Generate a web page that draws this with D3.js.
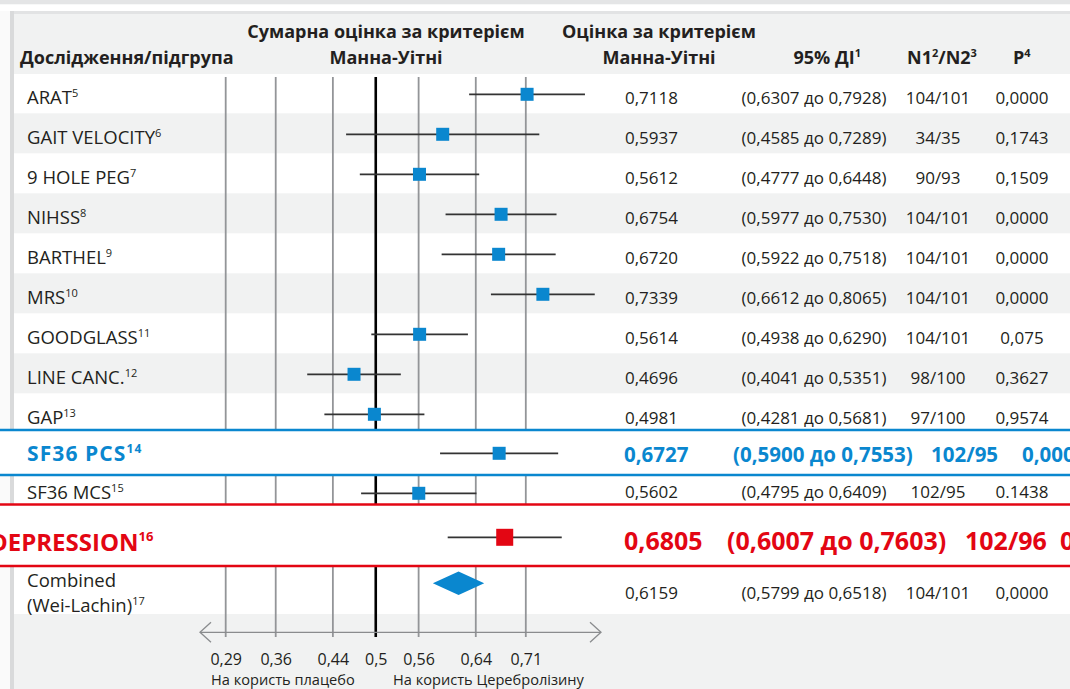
<!DOCTYPE html>
<html>
<head>
<meta charset="utf-8">
<script src="https://cdn.jsdelivr.net/npm/d3@7"></script>
<style>
html,body{margin:0;padding:0;background:#fff;}
svg{display:block;font-family:"Open Sans","Noto Sans",sans-serif;}
</style>
</head>
<body>
<svg id="chart" width="1070" height="689"></svg>
<script>
// ---------- DATA ----------
const studies = ["ARAT","GAIT VELOCITY","9 HOLE PEG","NIHSS","BARTHEL","MRS","GOODGLASS","LINE CANC.","GAP","SF36 PCS","SF36 MCS","DEPRESSION","Combined"];
const refNotes = ["5","6","7","8","9","10","11","12","13","14","15","16","17"];
const estimates = [0.7118,0.5937,0.5612,0.6754,0.6720,0.7339,0.5614,0.4696,0.4981,0.6727,0.5602,0.6805,0.6159];
const ciLow  = [0.6307,0.4585,0.4777,0.5977,0.5922,0.6612,0.4938,0.4041,0.4281,0.5900,0.4795,0.6007,0.5799];
const ciHigh = [0.7928,0.7289,0.6448,0.7530,0.7518,0.8065,0.6290,0.5351,0.5681,0.7553,0.6409,0.7603,0.6518];
const nLabels = ["104/101","34/35","90/93","104/101","104/101","104/101","104/101","98/100","97/100","102/95","102/95","102/96","104/101"];
const pLabels = ["0,0000","0,1743","0,1509","0,0000","0,0000","0,0000","0,075","0,3627","0,9574","0,0000","0.1438","0,0000","0,0000"];
const tickValues = [0.29,0.36,0.44,0.5,0.56,0.64,0.71];
const tickLabels = ["0,29","0,36","0,44","0,5","0,56","0,64","0,71"];
const favourLabels = ["На користь плацебо","На користь Церебролізину"];
const headerLabels = {
  study: "Дослідження/підгрупа",
  sum1: "Сумарна оцінка за критерієм", sum2: "Манна-Уітні",
  est1: "Оцінка за критерієм", est2: "Манна-Уітні",
  ci: "95% ДІ", ciSup: "1",
  n: ["N1","2","/N2","3"],
  p: "P", pSup: "4"
};
// row style: normal / blue / red / combined
const rowStyle = ["n","n","n","n","n","n","n","n","n","blue","n","red","comb"];

// ---------- LAYOUT ----------
const W = 1070, H = 689;
const BLACK = "#231f20", BLUE = "#0a87cf", RED = "#e30613", GRID = "#939598", LIGHT = "#f1f2f2";
const svg = d3.select("#chart");
const x = d3.scaleLinear().domain([0.29, 0.71]).range([225.7, 525.8]);
const fmt = v => d3.format(".4f")(v).replace(".", ",");

// row geometry
const regTop = d3.scaleLinear().domain([0, 1]).range([73.3, 113.3]);
const rows = studies.map((s, i) => {
  if (i < 9) return {top: regTop(i), bot: i === 8 ? 430 : regTop(i + 1), mark: regTop(i) + 21, text: regTop(i) + 30.5, val: regTop(i) + 30.5};
  if (i === 9) return {top: 430, bot: 475, mark: 453.3, text: 460.5, val: 461.5};
  if (i === 10) return {top: 475, bot: 505, mark: 493.3, text: 498.5, val: 497.5};
  if (i === 11) return {top: 505, bot: 566, mark: 537.3, text: 550.5, val: 550};
  return {top: 566, bot: 614, mark: 583.3, text: 587.3, val: 599};
});

// ---------- BACKGROUND ----------
svg.append("rect").attr("x",0).attr("y",0).attr("width",W).attr("height",H).attr("fill","#fafafa");
svg.append("rect").attr("x",0).attr("y",0).attr("width",W).attr("height",4.5).attr("fill","#e4e5e6");
svg.append("rect").attr("x",0).attr("y",4.5).attr("width",W).attr("height",6.5).attr("fill","#ffffff");
svg.append("rect").attr("x",10).attr("y",11).attr("width",W-10).attr("height",H-11).attr("fill","#ffffff");
svg.append("rect").attr("x",10).attr("y",11).attr("width",W-10).attr("height",3).attr("fill","#e2e3e4");
svg.append("rect").attr("x",14).attr("y",14).attr("width",W-14).attr("height",60).attr("fill",LIGHT);
rows.forEach((r, i) => {
  if (i < 9 && i % 2 === 1) svg.append("rect").attr("x",14).attr("y",r.top).attr("width",W-14).attr("height",r.bot-r.top).attr("fill",LIGHT);
});
svg.append("rect").attr("x",14).attr("y",614).attr("width",W-14).attr("height",H-614).attr("fill",LIGHT);
svg.append("rect").attr("x",10).attr("y",11).attr("width",4).attr("height",H-11).attr("fill","#d9dadb");

// ---------- GRID ----------
svg.append("g").selectAll("line").data(tickValues).join("line")
  .attr("x1", d => x(d)).attr("x2", d => x(d))
  .attr("y1", 77).attr("y2", 637)
  .attr("stroke", d => d === 0.5 ? "#000" : GRID)
  .attr("stroke-width", d => d === 0.5 ? 2.6 : 1.8);

[9, 11].forEach(i => {
  svg.append("rect").attr("x",0).attr("y",rows[i].top).attr("width",W).attr("height",rows[i].bot-rows[i].top).attr("fill","#fff");
});
[[430, BLUE],[475, BLUE],[504.5, RED],[566, RED]].forEach(([y, c]) => {
  svg.append("line").attr("x1",0).attr("x2",W).attr("y1",y).attr("y2",y).attr("stroke",c).attr("stroke-width",2.6);
});

// ---------- AXIS ----------
const axisY = 632.3;
const axisG = svg.append("g").attr("transform", `translate(0,${axisY})`);
axisG.call(d3.axisBottom(x).tickValues(tickValues).tickFormat((d, i) => tickLabels[i]).tickSize(0).tickPadding(0));
axisG.select(".domain").remove();
axisG.selectAll("text").attr("y", 32.5).attr("dy", null).attr("font-size", 16).attr("fill", BLACK)
  .attr("font-family", '"Open Sans","Noto Sans",sans-serif');
const AX = "#8a8c8e";
svg.append("line").attr("x1",200).attr("x2",601).attr("y1",axisY).attr("y2",axisY).attr("stroke",AX).attr("stroke-width",1.3);
svg.append("path").attr("d",`M211,${axisY-10}L200,${axisY}L211,${axisY+10}`).attr("fill","none").attr("stroke",AX).attr("stroke-width",1.3);
svg.append("path").attr("d",`M590,${axisY-10}L601,${axisY}L590,${axisY+10}`).attr("fill","none").attr("stroke",AX).attr("stroke-width",1.3);
svg.append("text").attr("x",211).attr("y",685).attr("font-size",14.6).attr("fill",BLACK).text(favourLabels[0]);
svg.append("text").attr("x",393).attr("y",685).attr("font-size",14.6).attr("fill",BLACK).text(favourLabels[1]);

// ---------- HEADER ----------
const HFS = 18;
const hdr = (t, xx, y, anchor) => svg.append("text").attr("x",xx).attr("y",y).attr("font-size",HFS).attr("font-weight","bold")
  .attr("fill",BLACK).attr("text-anchor",anchor||"start").text(t);
hdr(headerLabels.study, 20, 63.5);
hdr(headerLabels.sum1, 386, 37.5, "middle");
hdr(headerLabels.sum2, 386, 63.5, "middle");
hdr(headerLabels.est1, 659, 37.5, "middle");
hdr(headerLabels.est2, 659, 63.5, "middle");
const ciH = svg.append("text").attr("x",861).attr("y",63.5).attr("font-size",HFS).attr("font-weight","bold").attr("fill",BLACK).attr("text-anchor","end");
ciH.append("tspan").text(headerLabels.ci);
ciH.append("tspan").attr("font-size",11).attr("dy",-7).text(headerLabels.ciSup);
const nH = svg.append("text").attr("x",907).attr("y",63.5).attr("font-size",HFS).attr("font-weight","bold").attr("fill",BLACK);
nH.append("tspan").text(headerLabels.n[0]);
nH.append("tspan").attr("font-size",11).attr("dy",-7).text(headerLabels.n[1]);
nH.append("tspan").attr("dy",7).text(headerLabels.n[2]);
nH.append("tspan").attr("font-size",11).attr("dy",-7).text(headerLabels.n[3]);
const pH = svg.append("text").attr("x",1013).attr("y",63.5).attr("font-size",HFS).attr("font-weight","bold").attr("fill",BLACK);
pH.append("tspan").text(headerLabels.p);
pH.append("tspan").attr("font-size",11).attr("dy",-7).text(headerLabels.pSup);

// ---------- ROWS ----------
rows.forEach((r, i) => {
  const st = rowStyle[i];
  const col = st === "blue" ? BLUE : st === "red" ? RED : BLACK;
  const lfs = st === "blue" ? 21 : st === "red" ? 24 : 18.5;   // label size
  const vfs = st === "blue" ? 20.5 : st === "red" ? 25 : 17;   // value size
  const fw = (st === "blue" || st === "red") ? "bold" : "normal";
  if (st === "comb") {
    svg.append("text").attr("x",27).attr("y",587.3).attr("font-size",lfs).attr("fill",BLACK).text(studies[i]);
    const t2 = svg.append("text").attr("x",27).attr("y",611.7).attr("font-size",lfs).attr("fill",BLACK);
    t2.append("tspan").text("(Wei-Lachin)");
    t2.append("tspan").attr("font-size",11).attr("dy",-7).text(refNotes[i]);
  } else {
    const lx = st === "red" ? -10 : 27;
    const t = svg.append("text").attr("x",lx).attr("y",r.text).attr("font-size",lfs).attr("font-weight",fw).attr("fill",col)
      .attr("letter-spacing", st === "blue" ? 1.1 : 0);
    t.append("tspan").text(studies[i]);
    t.append("tspan").attr("font-size", st === "red" ? 13 : st === "blue" ? 12 : 11).attr("dy", st === "red" ? -10 : st === "blue" ? -8 : -7).text(refNotes[i]);
  }
  if (st === "comb") {
    const cy = r.mark, hh = 11.7;
    svg.append("path").attr("fill",BLUE)
      .attr("d", `M${x(ciLow[i])},${cy}L${x(estimates[i])},${cy-hh}L${x(ciHigh[i])},${cy}L${x(estimates[i])},${cy+hh}Z`);
  } else {
    svg.append("line").attr("x1",x(ciLow[i])).attr("x2",x(ciHigh[i])).attr("y1",r.mark).attr("y2",r.mark)
      .attr("stroke","#333").attr("stroke-width",1.8);
    const sz = st === "red" ? 17 : 13;
    svg.append("rect").attr("x",x(estimates[i])-sz/2).attr("y",r.mark-sz/2).attr("width",sz).attr("height",sz)
      .attr("fill", st === "red" ? RED : BLUE);
  }
  const vt = (t, xx, anchor) => svg.append("text").attr("x",xx).attr("y",r.val).attr("font-size",vfs).attr("font-weight",fw)
    .attr("fill",col).attr("text-anchor",anchor).text(t);
  const ciText = `(${fmt(ciLow[i])} до ${fmt(ciHigh[i])})`;
  if (st === "blue") {
    vt(fmt(estimates[i]), 624, "start");
    vt(ciText, 733, "start");
    vt(nLabels[i], 931, "start");
    vt(pLabels[i], 1022, "start");
  } else if (st === "red") {
    vt(fmt(estimates[i]), 624, "start");
    vt(ciText, 727, "start");
    vt(nLabels[i], 965, "start");
    vt(pLabels[i], 1060, "start");
  } else {
    vt(fmt(estimates[i]), 625, "start");
    vt(ciText, 814, "middle");
    vt(nLabels[i], 938, "middle");
    vt(pLabels[i], 1022, "middle");
  }
});
</script>
</body>
</html>
